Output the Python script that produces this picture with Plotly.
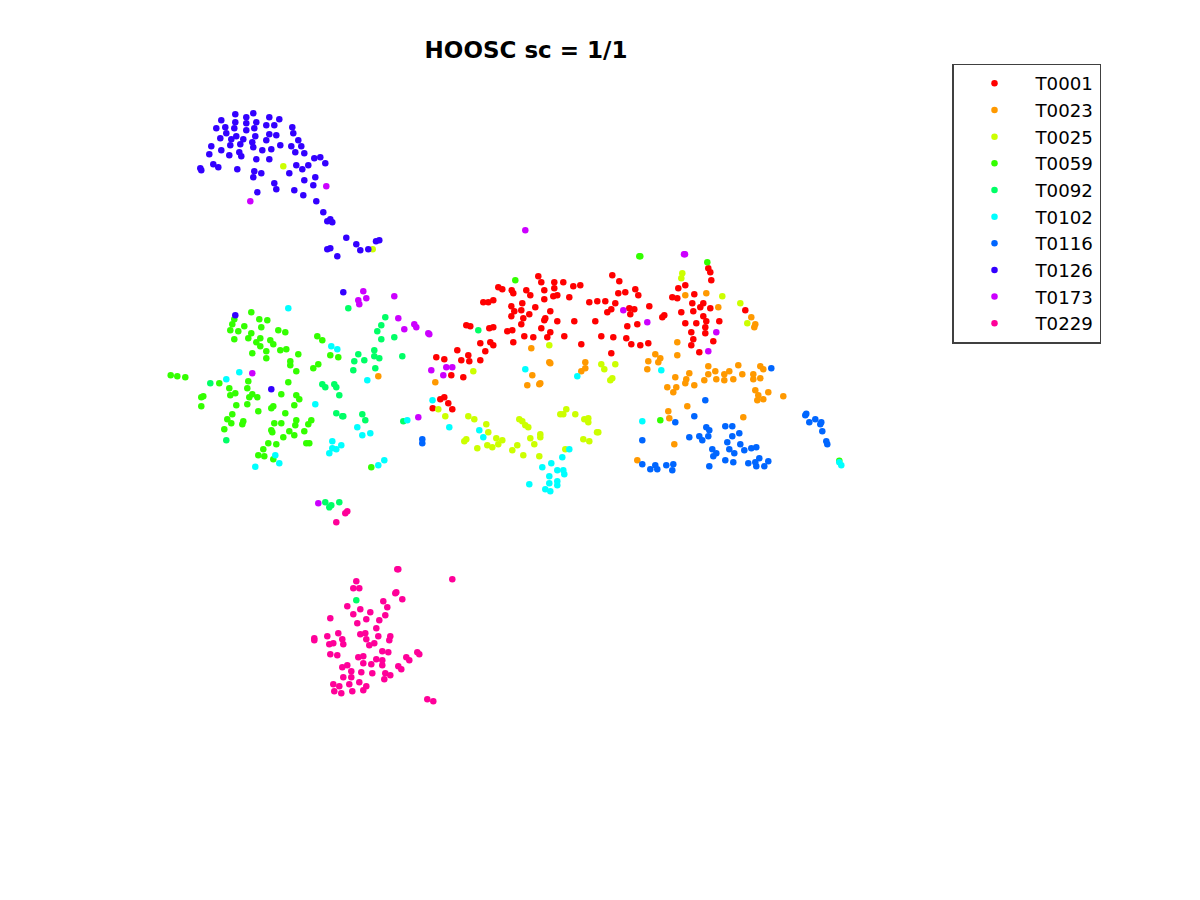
import plotly.graph_objects as go

names = ["T0001","T0023","T0025","T0059","T0092","T0102","T0116","T0126","T0173","T0229"]
colors = ["#ff0000","#ff9900","#ccff00","#33ff00","#00ff66","#00ffff","#0066ff","#3300ff","#cc00ff","#ff0099"]

t0001 = [(538.3,276.3),(612.3,275.3),(541.3,282.3),(554.3,282.3),(563.3,282.3),(573.3,286.3),(580.3,285.3),(619.3,281.3),(554.3,288.3),(498.3,287.3),(502.3,289.3),(511.7,290.3),(513.3,293.3),(526.3,290.3),(530.3,295.3),(544.3,290.3),(553.3,296.3),(557.3,295.3),(544.3,299.3),(569.3,297.3),(618.3,293.3),(625.3,292.3),(635.3,289.3),(638.3,295.3),(685.3,285.3),(678.3,288.3),(694.3,294.3),(672.3,297.3),(677.3,298.3),(708.3,268.3),(710.3,272.3),(711.3,280.3),(483.3,302.3),(488.3,302.3),(493.3,300.3),(522.3,303.3),(511.3,306.3),(535.3,307.3),(589.3,302.3),(597.3,301.3),(605.3,301.3),(615.3,303.3),(649.3,306.3),(629.3,308.3),(634.3,309.3),(611.3,309.3),(607.3,312.3),(630.3,314.3),(514.3,311.3),(521.3,310.3),(550.3,311.3),(529.3,314.3),(511.3,316.3),(523.3,318.3),(545.3,318.3),(544.3,320.3),(557.3,321.3),(574.3,321.3),(595.3,321.3),(521.3,324.3),(466.3,325.3),(470.3,326.3),(489.3,328.3),(493.3,327.3),(541.3,328.3),(507.3,331.3),(512.3,330.3),(550.3,332.3),(637.3,324.3),(627.3,326.3),(662.3,317.3),(664.3,315.3),(692.3,303.3),(703.3,303.3),(700.3,307.3),(710.3,308.3),(693.3,311.3),(681.3,312.3),(703.3,316.3),(706.3,321.3),(719.3,321.3),(685.3,323.3),(696.3,323.3),(705.3,327.3),(691.3,332.3),(705.3,333.3),(693.3,339.3),(713.3,341.3),(691.3,345.3),(699.3,352.3),(524.3,336.3),(533.3,337.3),(547.3,337.3),(564.3,336.3),(513.3,342.3),(601.3,336.3),(613.3,337.3),(626.3,338.3),(631.3,344.3),(640.3,345.3),(648.3,343.3),(581.3,344.3),(611.3,353.3),(480.3,343.3),(490.3,342.3),(493.3,345.3),(485.3,351.3),(457.3,350.3),(436.3,357.3),(444.3,359.3),(468.3,355.3),(461.3,360.3),(469.3,361.3),(480.3,360.3),(451.3,375.3),(463.3,377.3),(440.3,399.3),(444.3,397.3),(448.3,403.3),(452.3,409.3),(432.7,408.3),(745.3,310.3)]

t0023 = [(531.3,348.3),(549.3,362.3),(550.3,363.3),(585.3,362.3),(585.3,368.3),(581.3,371.3),(532.3,375.3),(527.3,385.3),(540.3,383.3),(539.3,384.3),(435.3,382.3),(378.3,376.3),(685.3,295.3),(706.3,293.3),(718.3,307.3),(677.3,342.3),(677.3,355.3),(655.3,354.3),(660.3,358.3),(658.3,362.3),(648.3,361.3),(647.3,369.3),(675.3,377.3),(689.3,373.3),(686.3,379.3),(685.3,383.3),(694.3,385.3),(667.3,387.3),(676.3,387.3),(673.3,392.3),(708.3,366.3),(708.3,374.3),(715.3,371.3),(704.3,380.3),(716.3,379.3),(724.3,374.3),(729.3,371.3),(724.3,380.3),(733.3,379.3),(738.3,365.3),(742.3,374.3),(753.3,374.3),(753.3,379.3),(760.3,378.3),(760.3,366.3),(763.3,369.3),(755.3,390.3),(758.3,395.3),(757.3,400.3),(763.3,399.3),(768.3,392.3),(783.3,396.3),(687.3,406.3),(668.3,411.3),(669.3,418.3),(743.3,417.3),(674.3,444.3),(637.3,460.3),(751.3,317.3),(755.3,324.3),(754.3,327.3)]

t0025 = [(283.3,166.3),(372.7,249.3),(549.3,345.3),(682.3,273.3),(681.3,278.3),(722.3,296.3),(740.3,303.3),(747.3,323.3),(601.3,364.3),(615.3,364.3),(604.3,369.3),(612.3,378.3),(610.3,380.3),(473.3,371.3),(438.3,409.3),(445.3,416.3),(468.3,416.3),(474.3,419.3),(486.3,424.3),(488.3,432.3),(496.3,438.3),(502.3,440.3),(498.3,444.3),(492.3,447.3),(487.3,445.3),(477.3,448.3),(466.3,439.3),(464.3,441.3),(519.3,419.3),(522.3,421.3),(525.3,425.3),(528.3,427.3),(530.3,438.3),(540.3,434.3),(540.3,437.3),(534.3,444.3),(517.3,445.3),(512.3,450.3),(523.3,455.3),(539.3,456.3),(565.3,449.3),(560.3,414.3),(563.3,414.3),(566.3,409.3),(575.3,414.3),(584.3,419.3),(588.3,418.3),(588.3,422.3),(597,432.3),(598.3,432.3),(583.3,439.3),(589.3,441.3)]

t0059 = [(515.3,280.3),(639.3,256.3),(640.3,256.3),(707.3,262.3),(660.3,420.3),(839.3,460.7),(251.3,312.3),(259.3,319.3),(267.3,320.3),(234.3,319.3),(232.3,324.3),(244.3,326.3),(230.3,330.3),(238.3,331.3),(261.3,327.3),(278.3,330.3),(285.3,332.3),(251.3,333.3),(248.3,338.3),(234.3,339.3),(260.3,338.3),(256.3,342.3),(260.3,346.3),(270.3,340.3),(273.3,344.3),(280.3,350.3),(286.3,349.3),(266.3,351.3),(252.3,353.3),(266.3,358.3),(298.3,354.3),(290.3,361.3),(290.3,365.3),(296.3,371.3),(317.3,336.3),(322.3,340.3),(330.3,355.3),(338.3,357.3),(318.3,364.3),(313.3,368.3),(288.3,382.3),(248.3,381.3),(247.3,388.3),(229.3,388.3),(219.3,383.3),(235.3,393.3),(230.3,395.3),(203.3,396.3),(201.3,397.3),(201.3,406.3),(170.7,375.3),(177.3,376.3),(185.3,377.3),(252.3,394.3),(249.3,397.3),(257.3,397.3),(281.3,394.3),(296.3,395.3),(299.3,399.3),(236.3,405.3),(247.3,404.3),(271.3,408.3),(273.3,406.3),(294.3,405.3),(258.3,411.3),(285.3,413.3),(232.3,414.3),(227.3,419.3),(231.3,423.3),(243.3,421.3),(242.3,424.3),(224.3,429.3),(274.3,423.3),(281.3,423.3),(296.3,420.3),(295.3,425.3),(311.3,420.3),(308.3,424.3),(271.3,430.3),(272.3,432.3),(289.3,431.3),(304.3,431.3),(283.3,437.3),(294.3,435.3),(268.3,443.3),(276.3,444.3),(306.3,443.3),(309.3,443.3),(263.3,449.3),(258.3,455.3),(264.3,456.3),(273.3,459.3),(371.3,467.3)]

t0092 = [(348.3,308.3),(385.3,317.3),(381.3,325.3),(377.3,331.3),(381.3,339.3),(394.3,337.3),(374.3,350.3),(358.3,354.3),(374.3,356.3),(379.3,358.3),(402.3,356.3),(354.3,361.3),(364.3,360.3),(353.3,370.3),(375.3,368.3),(210.3,383.3),(226.3,440.3),(322.3,384.3),(325.3,387.3),(334.3,384.3),(336.3,387.3),(339.3,395.3),(336.3,413.3),(342.3,416.3),(343.3,416.3),(362.3,414.3),(365.3,420.3),(403.3,421.3),(478.3,330.3),(325.3,502.3),(331.3,505.3),(329.3,507.3),(339.3,502.3),(356.3,600.3)]

t0102 = [(288.3,308.3),(331.3,346.3),(337.3,349.3),(239.3,372.3),(226.3,379.3),(367.3,380.3),(315.3,404.3),(357.3,427.3),(370.3,433.3),(362.3,435.3),(407.3,420.3),(332.3,441.3),(341.3,445.3),(332.3,448.3),(336.3,449.3),(329.3,453.3),(275.3,455.3),(279.3,463.3),(255.3,466.7),(384.3,460.3),(378.3,465.3),(432.5,400.3),(449.3,427.3),(525.3,369.3),(577.3,376.3),(661.3,370.3),(479.3,430.3),(483.3,437.3),(569.3,449.3),(562.3,457.3),(551.3,463.3),(542.3,467.3),(563.3,470.3),(557.3,470.3),(564.3,474.3),(549.3,476.3),(557.3,481.3),(557.3,485.3),(549.3,483.3),(529.3,484.3),(545.3,489.3),(550.3,491.3),(642.3,421.3),(839.3,462.3),(841.3,465.3)]

t0116 = [(771.3,368.3),(705.3,400.3),(694.3,416.3),(675.3,422.3),(642.3,440.3),(725.3,426.3),(732.3,426.3),(706.3,427.3),(709.3,430.3),(739.3,433.3),(732.3,436.3),(708.3,436.3),(689.3,437.3),(699.3,436.3),(702.3,440.3),(727.3,442.3),(740.3,444.3),(729.3,449.3),(744.3,450.3),(751.3,448.3),(756.3,447.3),(712.3,449.3),(716.3,453.3),(713.3,456.3),(734.3,453.3),(759.3,458.3),(725.3,460.3),(733.3,462.3),(748.3,463.3),(755.3,462.3),(768.3,461.3),(756.3,466.3),(764.3,466.3),(709.3,466.3),(642.3,464.3),(650.3,469.3),(655.3,465.3),(657.3,469.3),(666.3,465.3),(673.3,464.3),(672.3,470.3),(805.3,415.3),(806.3,413.7),(809.3,422.3),(815.3,419.3),(821.3,422.3),(820.3,424.3),(822.3,431.3),(826.3,441.3),(827.3,444.3),(422.3,439.3),(422.3,443.3)]

t0126 = [(235.3,114.3),(246.3,117.3),(253.3,113.3),(269.3,117.3),(279.3,119.3),(221.3,120.3),(235.3,122.3),(246.3,123.3),(256.3,122.3),(266.3,125.3),(274.3,125.3),(292.3,127.3),(216.3,128.3),(225.3,127.3),(234.3,128.3),(246.3,130.3),(254.3,128.3),(226.3,133.3),(269.3,134.3),(276.3,135.3),(293.3,133.3),(220.3,138.3),(231.3,139.3),(236.3,136.3),(243.3,139.3),(255.3,136.3),(266.3,140.3),(298.3,140.3),(230.3,145.3),(240.3,144.3),(252.3,142.3),(253.3,147.3),(280.3,145.3),(291.3,146.3),(301.3,146.3),(211.3,146.3),(221.3,150.3),(239.3,152.3),(262.3,150.3),(271.3,149.3),(295.3,152.3),(304.3,153.3),(209.3,154.3),(229.3,155.3),(241.3,156.3),(256.3,159.3),(269.3,159.3),(314.3,158.3),(320.3,157.3),(325.3,163.3),(213.3,164.3),(218.3,167.3),(200.3,168.3),(201.3,170.3),(237.3,169.3),(296.3,165.3),(308.3,165.3),(302.3,169.3),(254.3,171.3),(261.3,173.3),(289.3,173.3),(253.3,177.3),(304.3,180.3),(315.3,177.3),(274.3,183.3),(313.3,185.3),(276.3,189.3),(294.3,190.3),(303.3,195.3),(257.3,192.3),(316.3,201.3),(323.3,212.3),(330.3,219.3),(327.3,221.3),(332.3,222.3),(346.3,237.7),(356.3,244.3),(360.3,250.3),(368.3,249.3),(376,241.3),(379.3,240.3),(327.3,249.3),(330.3,248.3),(337.3,256.3),(343.3,292.3),(235.3,315.3),(271.3,389.3)]

t0173 = [(326.3,186.3),(250.3,201.3),(363.3,291.3),(394.3,296.3),(366.3,298.3),(358.3,300.3),(359.3,304.3),(398.3,318.3),(414.3,324.3),(416.3,327.3),(404.3,329.3),(428.3,333.3),(429.3,334.3),(252.3,373.3),(431.3,370.3),(446.3,367.3),(443.3,375.3),(418.3,417.3),(525.3,230.3),(685,254.3),(684,254.3),(623.3,310.3),(647.3,322.3),(716.3,332.3),(708.3,351.3),(452.3,367.3),(318.3,503.3)]

t0229 = [(347.3,511.3),(345.3,513.3),(336.3,522.3),(397.3,569.3),(398.3,569.3),(452.3,579.3),(356.3,581.3),(353.3,588.3),(359.3,588.3),(396.3,592.3),(395.3,593.3),(402.3,599.3),(383.3,601.3),(387.3,607.3),(347.3,606.3),(360.3,609.3),(370.3,612.3),(353.3,614.3),(385.3,615.3),(366.3,619.3),(379.3,620.3),(330.3,618.3),(357.3,623.3),(376.3,628.3),(338.3,633.3),(327.3,636.3),(360.3,634.3),(365.3,633.3),(378.3,636.3),(390.3,636.3),(389.3,640.3),(342.3,639.3),(366.3,639.3),(314.3,638.3),(314.3,640.3),(329.3,644.3),(333.3,643.3),(343.3,644.3),(369.3,645.3),(374.3,643.3),(330.3,654.3),(337.3,655.3),(382.3,651.3),(388.3,652.3),(417.3,652.3),(419.3,654.3),(358.3,657.3),(363.3,656.3),(376.3,659.3),(406.3,657.3),(409.3,660.3),(382.3,660.3),(363.3,663.3),(371.3,664.3),(382.3,665.3),(342.3,667.3),(347.3,665.3),(398.3,666.3),(401.3,669.3),(351.3,671.3),(361.3,672.3),(372.3,673.3),(385.3,673.3),(390.3,675.3),(343.3,677.3),(351.3,677.3),(384.3,679.3),(333.3,684.3),(349.3,684.3),(359.3,682.3),(339.3,686.3),(366.3,686.3),(363.3,690.3),(334.3,691.3),(341.3,693.3),(352.3,691.3),(427.3,699.3),(433.3,701.3)]

series = [t0001,t0023,t0025,t0059,t0092,t0102,t0116,t0126,t0173,t0229]

fig = go.Figure()
for name, color, pts in zip(names, colors, series):
    fig.add_trace(go.Scatter(
        x=[p[0] for p in pts], y=[p[1] for p in pts], mode="markers", name=name,
        marker=dict(color=color, size=6.5, line=dict(width=0)), cliponaxis=False))

PAGE = 8  # the page body's default margin
fig.update_layout(
    width=1192, height=892, margin=dict(l=0, r=0, t=0, b=0),
    paper_bgcolor="white", plot_bgcolor="white",
    font=dict(family="DejaVu Sans", color="black"),
    xaxis=dict(range=[PAGE, 1200], visible=False, fixedrange=True),
    yaxis=dict(range=[900, PAGE], visible=False, fixedrange=True),
    title=dict(text="<b>HOOSC sc = 1/1</b>", x=(526-PAGE)/1192, y=1-(50-PAGE)/892, xanchor="center", yanchor="middle",
               font=dict(family="DejaVu Sans", size=23, color="black")),
    legend=dict(x=(952-PAGE)/1192, y=1-(63.5-PAGE)/892, xanchor="left", yanchor="top", bgcolor="white",
                bordercolor="#404040", borderwidth=1.5, font=dict(family="DejaVu Sans", size=18.2, color="black"),
                itemwidth=72, entrywidth=69, traceorder="normal"),
)
fig.write_html("out.html")
